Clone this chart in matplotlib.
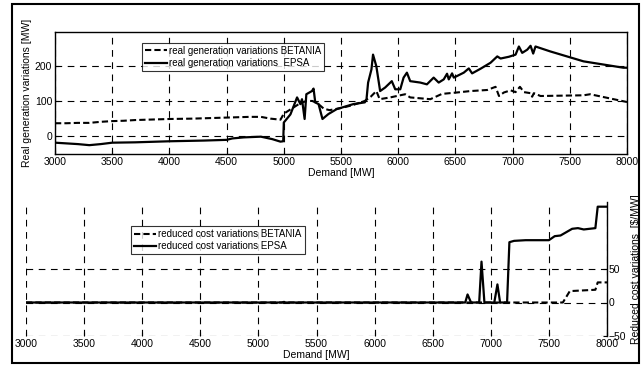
import matplotlib

matplotlib.use("Agg")

import matplotlib.pyplot as plt
from matplotlib.patches import Rectangle

plt.rcParams["font.family"] = ["Liberation Sans", "DejaVu Sans"]

# top panel: real generation variations [MW]
gen_betania_x = [3000, 3100, 3200, 3300, 3400, 3500, 3600, 3700, 3800, 3900, 4000, 4200, 4400, 4500,
                 4600, 4700, 4800, 4884, 4971, 5000, 5087, 5145, 5200, 5250, 5300, 5350, 5400, 5500,
                 5600, 5708, 5760, 5809, 5838, 5930, 6061, 6105, 6281, 6383, 6515, 6632, 6778, 6851,
                 6881, 6924, 6983, 7026, 7064, 7099, 7157, 7171, 7186, 7244, 7620, 7678, 8000]
gen_betania_y = [37, 37, 38, 38, 41, 43, 44, 46, 47, 48, 49, 50, 52, 53,
                 54, 55, 55, 50, 47, 64, 82, 94, 100, 100, 92, 78, 74, 80,
                 88, 100, 112, 128, 105, 110, 119, 110, 105, 120, 124, 128, 131, 140,
                 114, 124, 130, 125, 140, 125, 122, 112, 122, 114, 116, 119, 97]

gen_epsa_x = [3000, 3100, 3200, 3300, 3400, 3500, 3700, 4000, 4300, 4500, 4550, 4650, 4800, 4900,
              4970, 4995, 5000, 5058, 5116, 5145, 5159, 5182, 5197, 5246, 5260, 5275, 5304, 5338,
              5390, 5463, 5607, 5708, 5723, 5737, 5766, 5780, 5809, 5842, 5886, 5944, 5974, 6018,
              6047, 6076, 6105, 6193, 6251, 6310, 6354, 6398, 6427, 6442, 6471, 6486, 6573, 6617,
              6646, 6719, 6807, 6866, 6895, 6968, 7026, 7055, 7084, 7128, 7157, 7180, 7200, 7330,
              7620, 7968, 8000]
gen_epsa_y = [-18, -20, -22, -25, -22, -18, -17, -14, -12, -10, -6, -3, -1, -8,
              -15, -14, 39, 62, 110, 91, 105, 49, 119, 128, 135, 96, 91, 49,
              63, 77, 91, 96, 105, 152, 189, 231, 198, 128, 138, 156, 133, 133,
              166, 180, 156, 152, 147, 166, 152, 161, 177, 161, 178, 166, 180, 192,
              178, 191, 208, 226, 220, 225, 231, 254, 236, 245, 256, 234, 254, 240,
              212, 194, 194]

# bottom panel: reduced cost variations [$/MW]
cost_betania_x = [3000, 5200, 5220, 5240, 6500, 7620, 7680, 7900, 7920, 8000]
cost_betania_y = [0, 0, 1, 0, 0, 0, 17, 19, 30, 30]

cost_epsa_x = [3000, 6780, 6800, 6830, 6900, 6920, 6945, 7030, 7057, 7080, 7140, 7160, 7200,
               7300, 7500, 7550, 7600, 7650, 7700, 7750, 7800, 7900, 7920, 8000]
cost_epsa_y = [0, 0, 12, 0, 0, 61, 0, 0, 27, 0, 0, 90, 92,
               93, 93, 99, 100, 105, 110, 111, 109, 111, 143, 143]

x_ticks = [3000, 3500, 4000, 4500, 5000, 5500, 6000, 6500, 7000, 7500, 8000]
gen_yticks = [0, 100, 200]
cost_yticks = [-50, 0, 50]

GRID = dict(color="black", linestyle=(0, (6, 5)), linewidth=0.8)
LEGEND = dict(loc="upper left", fontsize=7, fancybox=False, handlelength=2.3, handletextpad=0.2,
              borderpad=0.3, labelspacing=0.25, borderaxespad=0)

fig = plt.figure(figsize=(6.41, 3.69), dpi=100)
fig.patches.append(Rectangle((12 / 641, 6 / 369), 627 / 641, 359 / 369, transform=fig.transFigure,
                             fill=False, edgecolor="black", linewidth=1.5))

# top axes
ax1 = fig.add_axes([55 / 641, 215 / 369, 572 / 641, 122 / 369])
ax1.plot(gen_betania_x, gen_betania_y, color="black", linestyle=(0, (3, 1.5)), linewidth=1.5,
         label="real generation variations BETANIA")
ax1.plot(gen_epsa_x, gen_epsa_y, color="black", linewidth=1.6,
         label="real generation variations  EPSA")
ax1.set_xlim(3000, 8000)
ax1.set_ylim(-50, 295)
ax1.set_xticks(x_ticks)
ax1.set_yticks(gen_yticks)
ax1.grid(True, **GRID)
ax1.tick_params(direction="in", length=3, labelsize=7.5, pad=2)
ax1.set_xlabel("Demand [MW]", fontsize=7.5, labelpad=1)
ax1.set_ylabel("Real generation variations [MW]", fontsize=7.5, labelpad=2)
for sp in ax1.spines.values():
    sp.set_linewidth(1.0)
leg1 = ax1.legend(bbox_to_anchor=(0.152, 0.91), **LEGEND)
leg1.get_frame().set_edgecolor("black")
leg1.get_frame().set_linewidth(0.8)

# bottom axes
ax2 = fig.add_axes([26 / 641, 33 / 369, 581 / 641, 134 / 369])
ax2.plot(cost_betania_x, cost_betania_y, color="black", linestyle=(0, (3, 1.5)), linewidth=1.5,
         label="reduced cost variations BETANIA")
ax2.plot(cost_epsa_x, cost_epsa_y, color="black", linewidth=1.6,
         label="reduced cost variations EPSA")
ax2.set_xlim(3000, 8000)
ax2.set_ylim(-50, 150)
ax2.set_xticks(x_ticks)
ax2.set_yticks(cost_yticks)
ax2.grid(True, **GRID)
ax2.yaxis.tick_right()
ax2.yaxis.set_label_position("right")
ax2.tick_params(direction="in", length=3, labelsize=7.5, pad=2)
ax2.tick_params(axis="y", pad=1)
for side in ["left", "top", "bottom"]:
    ax2.spines[side].set_visible(False)
ax2.spines["right"].set_linewidth(1.0)
ax2.set_xlabel("Demand [MW]", fontsize=7.5, labelpad=1)
ax2.set_ylabel("Reduced cost variations  [$/MW]", fontsize=7.5, labelpad=4)
leg2 = ax2.legend(bbox_to_anchor=(0.181, 0.82), **LEGEND)
leg2.get_frame().set_edgecolor("black")
leg2.get_frame().set_linewidth(0.8)

fig.savefig("out.png", dpi=100)
